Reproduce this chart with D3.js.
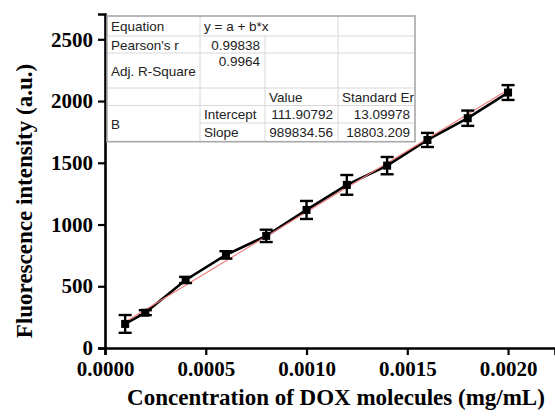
<!DOCTYPE html>
<html>
<head>
<meta charset="utf-8">
<script src="https://cdn.jsdelivr.net/npm/d3@7"></script>
<style>
  body { margin: 0; background: #fff; }
  svg { display: block; }
</style>
</head>
<body>
<div id="chart"></div>
<script>
var width = 555,
    height = 419;

// measured points
var conc = [0.0001, 0.0002, 0.0004, 0.0006, 0.0008, 0.0010, 0.0012, 0.0014, 0.0016, 0.0018, 0.0020];
var intensity = [195, 286, 551, 754, 908, 1118, 1321, 1477, 1685, 1861, 2069];
var errors = [72, 20, 25, 30, 50, 73, 80, 70, 57, 62, 60];

// linear fit y = a + b*x
var fitIntercept = 111.90792;
var fitSlope = 989834.56;

var xTicks = [0, 0.0005, 0.0010, 0.0015, 0.0020];
var yTicks = [0, 500, 1000, 1500, 2000, 2500];

// fit report table
var tableRows = [
  ['Equation', 'y = a + b*x', '', ''],
  ["Pearson's r", '0.99838', '', ''],
  ['Adj. R-Square', '0.9964', '', ''],
  ['', '', 'Value', 'Standard Er'],
  ['B', 'Intercept', '111.90792', '13.09978'],
  ['', 'Slope', '989834.56', '18803.209']
];

var svg = d3.select('#chart').append('svg')
  .attr('width', width)
  .attr('height', height);

var x = d3.scaleLinear().domain([0, 0.002233]).range([105, 555]);
var y = d3.scaleLinear().domain([0, 2705]).range([348, 14]);

// axes
var xAxis = svg.append('g')
  .attr('transform', 'translate(0,' + y(0) + ')')
  .call(d3.axisBottom(x).tickValues(xTicks).tickFormat(d3.format('.4f')).tickSizeOuter(0).tickSize(7).tickPadding(6));
var yAxis = svg.append('g')
  .attr('transform', 'translate(' + x(0) + ',0)')
  .call(d3.axisLeft(y).tickValues(yTicks).tickFormat(d3.format('d')).tickSizeOuter(0).tickSize(7).tickPadding(5));

[xAxis, yAxis].forEach(function(a){
  a.select('.domain').attr('stroke', '#000').attr('stroke-width', 2.6);
  a.selectAll('.tick line').attr('stroke', '#000').attr('stroke-width', 2.2);
  a.selectAll('.tick text')
    .attr('fill', '#000')
    .style('font-family', '"Liberation Serif", "Times New Roman", serif')
    .style('font-weight', 'bold')
    .style('font-size', '21px');
});

// axis titles
svg.append('text')
  .attr('x', 336).attr('y', 405)
  .attr('text-anchor', 'middle')
  .style('font-family', '"Liberation Serif", "Times New Roman", serif')
  .style('font-weight', 'bold')
  .style('font-size', '23px')
  .text('Concentration of DOX molecules (mg/mL)');

svg.append('text')
  .attr('transform', 'translate(32,201) rotate(-90)')
  .attr('text-anchor', 'middle')
  .style('font-family', '"Liberation Serif", "Times New Roman", serif')
  .style('font-weight', 'bold')
  .style('font-size', '23px')
  .text('Fluorescence intensity (a.u.)');

// data line
var pts = conc.map(function(c, i){ return [c, intensity[i], errors[i]]; });

svg.append('path')
  .datum(pts)
  .attr('fill', 'none')
  .attr('stroke', '#000')
  .attr('stroke-width', 2.6)
  .attr('d', d3.line().x(function(d){ return x(d[0]); }).y(function(d){ return y(d[1]); }));

// fit line
var fitX = d3.extent(conc);
svg.append('line')
  .attr('x1', x(fitX[0])).attr('y1', y(fitIntercept + fitSlope * fitX[0]))
  .attr('x2', x(fitX[1])).attr('y2', y(fitIntercept + fitSlope * fitX[1]))
  .attr('stroke', '#f07a7a')
  .attr('stroke-width', 1.1);

// error bars
var eb = svg.append('g').attr('stroke', '#000').attr('stroke-width', 2.4);
pts.forEach(function(d){
  var cx = x(d[0]);
  eb.append('line').attr('x1', cx).attr('x2', cx).attr('y1', y(d[1] - d[2])).attr('y2', y(d[1] + d[2]));
  eb.append('line').attr('x1', cx - 6.5).attr('x2', cx + 6.5).attr('y1', y(d[1] - d[2])).attr('y2', y(d[1] - d[2]));
  eb.append('line').attr('x1', cx - 6.5).attr('x2', cx + 6.5).attr('y1', y(d[1] + d[2])).attr('y2', y(d[1] + d[2]));
});

// markers
svg.selectAll('rect.pt')
  .data(pts)
  .enter().append('rect')
  .attr('class', 'pt')
  .attr('x', function(d){ return x(d[0]) - 4; })
  .attr('y', function(d){ return y(d[1]) - 4; })
  .attr('width', 8).attr('height', 8)
  .attr('fill', '#000');

// table
var colX = [107, 200, 265, 338, 415];
var rowY = [16, 36, 53, 88, 105.5, 123, 141.7];
var tbl = svg.append('g');
tbl.append('rect')
  .attr('x', colX[0]).attr('y', rowY[0])
  .attr('width', colX[4] - colX[0]).attr('height', rowY[6] - rowY[0])
  .attr('fill', '#fff');

var grid = tbl.append('g').attr('stroke', '#d8d8d8').attr('stroke-width', 1);
// horizontal lines (skip line between merged B rows in first column)
rowY.slice(1, 6).forEach(function(ry, i){
  var startX = (i + 1 === 5) ? colX[1] : colX[0];
  grid.append('line').attr('x1', startX).attr('x2', colX[4]).attr('y1', ry).attr('y2', ry);
});
// vertical lines (first row col2 spans into col3)
colX.slice(1, 4).forEach(function(cx, j){
  var startY = (j === 1) ? rowY[1] : rowY[0];
  grid.append('line').attr('x1', cx).attr('x2', cx).attr('y1', startY).attr('y2', rowY[6]);
});
tbl.append('rect')
  .attr('x', colX[0]).attr('y', rowY[0])
  .attr('width', colX[4] - colX[0]).attr('height', rowY[6] - rowY[0])
  .attr('fill', 'none').attr('stroke', '#a8a8a8').attr('stroke-width', 1.6);

var cellFont = function(s){
  return s.style('font-family', '"Liberation Sans", Arial, sans-serif')
    .style('font-size', '13.5px').attr('fill', '#222');
};

tableRows.forEach(function(row, r){
  row.forEach(function(txt, c){
    if (!txt) return;
    var numeric = /^[0-9.]+$/.test(txt);
    var tx = numeric ? colX[c + 1] - 5 : colX[c] + 4;
    var ty;
    if (r === 2 && c === 0) ty = (rowY[2] + rowY[3]) / 2 + 5;
    else if (r === 2) ty = rowY[2] + 13;
    else if (r === 4 && c === 0) ty = (rowY[4] + rowY[6]) / 2 + 5;
    else ty = (rowY[r] + rowY[r + 1]) / 2 + 5;
    cellFont(tbl.append('text'))
      .attr('x', tx).attr('y', ty)
      .attr('text-anchor', numeric ? 'end' : 'start')
      .text(txt);
  });
});
</script>
</body>
</html>
